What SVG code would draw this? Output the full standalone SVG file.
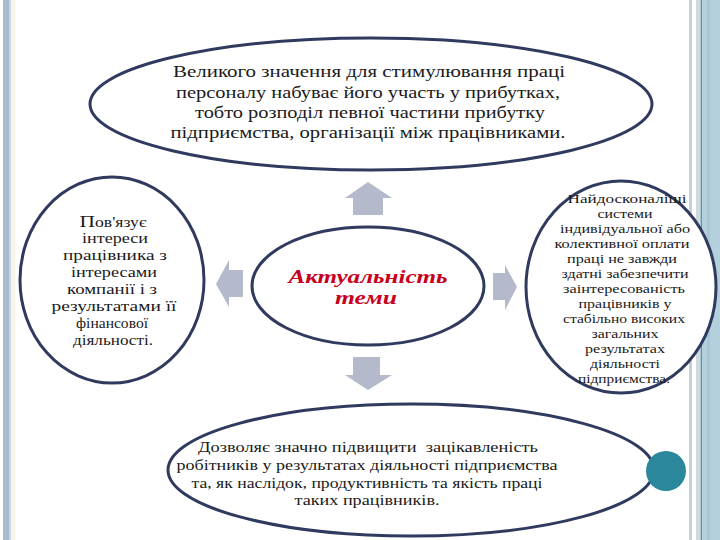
<svg xmlns="http://www.w3.org/2000/svg" width="720" height="540" viewBox="0 0 720 540">
<style>
.ell{fill:#ffffff;stroke:#2f3a5e;stroke-width:3}
.t{font-family:"Liberation Serif","DejaVu Serif",serif;fill:#1a1a1a;text-anchor:middle}
.arr{fill:#b5b9cc}
.title{font-family:"Liberation Serif","DejaVu Serif",serif;font-weight:bold;font-style:italic;fill:#c8001e;text-anchor:middle;font-size:19px}
</style>
<rect width="720" height="540" fill="#ffffff"/>
<g id="left-strip">
<rect x="3" y="0" width="6" height="540" fill="#a9bccb"/>
<rect x="9" y="0" width="2" height="540" fill="#cbd7e0"/>
<rect x="11" y="0" width="3" height="540" fill="#eef8fb"/>
<rect x="14" y="0" width="1" height="540" fill="#fbeed4"/>
</g>
<g id="right-strip">
<rect x="689" y="0" width="3" height="540" fill="#c5cfd6"/>
<rect x="696" y="0" width="4" height="540" fill="#d0d9df"/>
<rect x="700.5" y="0" width="1.5" height="540" fill="#5b93aa"/>
<rect x="702" y="0" width="18" height="540" fill="#b3d0dc"/>
<rect x="707" y="0" width="3" height="540" fill="#a9c7d3"/>
</g>
<g id="connectors">
<polygon class="arr" points="368,182 392,198 383,198 383,215 353,215 353,198 345,198"/>
<polygon class="arr" points="353,357 380,357 380,375 392,375 368,390 345,375 353,375"/>
<polygon class="arr" points="243,270 243,297 229,297 229,307 216,284 229,260 229,270"/>
<polygon class="arr" points="493,273 505,273 505,265 517,287 505,310 505,300 493,300"/>
</g>
<g id="node-top">
<ellipse class="ell" cx="371" cy="104" rx="281" ry="66"/>
<text class="t" font-size="16"><tspan x="369" y="77" textLength="392" lengthAdjust="spacingAndGlyphs">Великого значення для стимулювання праці</tspan><tspan x="368" y="98" textLength="384" lengthAdjust="spacingAndGlyphs">персоналу набуває його участь у прибутках,</tspan><tspan x="370" y="118" textLength="350" lengthAdjust="spacingAndGlyphs">тобто розподіл певної частини прибутку</tspan><tspan x="368" y="138" textLength="395" lengthAdjust="spacingAndGlyphs">підприємства, організації між працівниками.</tspan></text>
</g>
<g id="node-left">
<ellipse class="ell" cx="112" cy="280" rx="92" ry="103"/>
<text class="t" font-size="14"><tspan x="113" y="227" textLength="67" lengthAdjust="spacingAndGlyphs"><tspan font-size="17">П</tspan>ов'язує</tspan><tspan x="115" y="243" textLength="66" lengthAdjust="spacingAndGlyphs">інтереси</tspan><tspan x="115" y="260" textLength="104" lengthAdjust="spacingAndGlyphs">працівника з</tspan><tspan x="114" y="277" textLength="86" lengthAdjust="spacingAndGlyphs">інтересами</tspan><tspan x="112" y="294" textLength="90" lengthAdjust="spacingAndGlyphs">компанії і з</tspan><tspan x="114" y="311" textLength="125" lengthAdjust="spacingAndGlyphs">результатами її</tspan><tspan x="112" y="328" textLength="72" lengthAdjust="spacingAndGlyphs">фінансової</tspan><tspan x="113" y="345" textLength="80" lengthAdjust="spacingAndGlyphs">діяльності.</tspan></text>
</g>
<g id="node-center">
<ellipse class="ell" cx="368" cy="286" rx="116" ry="59"/>
<text class="title" font-size="18"><tspan x="368" y="283" textLength="159" lengthAdjust="spacingAndGlyphs">Актуальність</tspan><tspan x="366" y="304" textLength="62" lengthAdjust="spacingAndGlyphs">теми</tspan></text>
</g>
<g id="node-right">
<ellipse class="ell" cx="621" cy="287" rx="95" ry="106"/>
<text class="t" font-size="13.5"><tspan x="627" y="203" textLength="119" lengthAdjust="spacingAndGlyphs">Найдосконаліші</tspan><tspan x="625" y="218" textLength="55" lengthAdjust="spacingAndGlyphs">системи</tspan><tspan x="625" y="233" textLength="130" lengthAdjust="spacingAndGlyphs">індивідуальної або</tspan><tspan x="622" y="248" textLength="135" lengthAdjust="spacingAndGlyphs">колективної оплати</tspan><tspan x="622" y="263" textLength="110" lengthAdjust="spacingAndGlyphs">праці не завжди</tspan><tspan x="625" y="278" textLength="127" lengthAdjust="spacingAndGlyphs">здатні забезпечити</tspan><tspan x="624" y="293" textLength="122" lengthAdjust="spacingAndGlyphs">заінтересованість</tspan><tspan x="625" y="308" textLength="93" lengthAdjust="spacingAndGlyphs">працівників у</tspan><tspan x="624" y="323" textLength="122" lengthAdjust="spacingAndGlyphs">стабільно високих</tspan><tspan x="625" y="338" textLength="67" lengthAdjust="spacingAndGlyphs">загальних</tspan><tspan x="625" y="353" textLength="80" lengthAdjust="spacingAndGlyphs">результатах</tspan><tspan x="625" y="368" textLength="70" lengthAdjust="spacingAndGlyphs">діяльності</tspan><tspan x="624" y="383" textLength="92" lengthAdjust="spacingAndGlyphs">підприємства.</tspan></text>
</g>
<g id="node-bottom">
<ellipse class="ell" cx="411" cy="470" rx="243" ry="66"/>
<text class="t" font-size="15" xml:space="preserve"><tspan x="368" y="452" textLength="340" lengthAdjust="spacingAndGlyphs">Дозволяє значно підвищити  зацікавленість</tspan><tspan x="367" y="470" textLength="381" lengthAdjust="spacingAndGlyphs">робітників у результатах діяльності підприємства</tspan><tspan x="367" y="488" textLength="351" lengthAdjust="spacingAndGlyphs">та, як наслідок, продуктивність та якість праці</tspan><tspan x="367" y="505" textLength="145" lengthAdjust="spacingAndGlyphs">таких працівників.</tspan></text>
</g>
<g id="teal-dot">
<circle cx="666" cy="471" r="20" fill="#2b879c"/>
</g>
</svg>
